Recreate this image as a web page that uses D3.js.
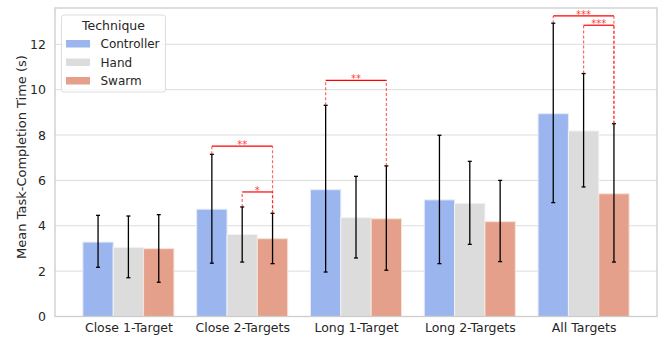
<!DOCTYPE html>
<html>
<head>
<meta charset="utf-8">
<script src="https://cdn.jsdelivr.net/npm/d3@7"></script>
<style>
  body { margin: 0; background: white; }
  text { font-family: "DejaVu Sans", sans-serif; }
</style>
</head>
<body>
<script>
// Données du graphique
const categories = ["Close 1-Target", "Close 2-Targets", "Long 1-Target", "Long 2-Targets", "All Targets"]
const techniques = ["Controller", "Hand", "Swarm"]

const controllerMeans = [3.28, 4.73, 5.59, 5.14, 8.94]
const controllerLow = [2.17, 2.35, 1.96, 2.33, 5.02]
const controllerHigh = [4.46, 7.15, 9.31, 7.99, 12.93]

const handMeans = [3.05, 3.62, 4.36, 4.99, 8.18]
const handLow = [1.71, 2.40, 2.58, 3.18, 5.71]
const handHigh = [4.43, 4.83, 6.18, 6.84, 10.71]

const swarmMeans = [2.99, 3.43, 4.31, 4.18, 5.41]
const swarmLow = [1.51, 2.33, 2.04, 2.42, 2.40]
const swarmHigh = [4.49, 4.55, 6.64, 6.00, 8.50]

const yTicks = [0, 2, 4, 6, 8, 10, 12]

// Comparaisons significatives : [catégorie, technique A, technique B, hauteur, étoiles]
const signifs = [
    [1, 0, 2, 7.51, "**"],
    [1, 1, 2, 5.49, "*"],
    [2, 0, 2, 10.41, "**"],
    [4, 0, 2, 13.25, "***"],
    [4, 1, 2, 12.84, "***"]
]

const colors = ["#9bb5ee", "#dcdcdc", "#e4a08a"]
const edges = ["#e4ebfb", "#f3f3f3", "#f7e2da"]

const means = [controllerMeans, handMeans, swarmMeans]
const lows = [controllerLow, handLow, swarmLow]
const highs = [controllerHigh, handHigh, swarmHigh]

// Tableau à plat pour les barres
const rows = []
categories.forEach((c, i) => {
    techniques.forEach((t, j) => {
        rows.push({ cat: c, ci: i, tech: t, ti: j, mean: means[j][i], low: lows[j][i], high: highs[j][i] })
    })
})

// Création du canva SVG
const width = 666, height = 342
const mLeft = 55, mRight = 657, mTop = 8, mBottom = 316.5

var svg = d3.select("body")
    .append("svg")
    .attr("width", width)
    .attr("height", height)

// Échelles
const x = d3.scaleLinear().domain([-0.645, 4.645]).range([mLeft, mRight])
const y = d3.scaleLinear().domain([0, 13.6]).range([mBottom, mTop])
const barW = 0.8 / 3
const xc = (ci, ti) => x(ci - 0.4 + barW * (ti + 0.5))

// Grille
svg.append("g")
    .selectAll("line")
    .data(yTicks)
    .enter()
    .append("line")
    .attr("x1", mLeft)
    .attr("x2", mRight)
    .attr("y1", d => y(d))
    .attr("y2", d => y(d))
    .attr("stroke", "#dcdcdc")
    .attr("stroke-width", 1)

// Axe Y
const yAxis = svg.append("g")
    .attr("transform", `translate(${mLeft},0)`)
    .call(d3.axisLeft(y).tickValues(yTicks).tickSize(0).tickPadding(9))
yAxis.select(".domain").remove()
yAxis.selectAll("text")
    .attr("font-size", 12.5)
    .attr("fill", "#262626")

// Axe X
const xAxis = svg.append("g")
    .attr("transform", `translate(0,${mBottom})`)
    .call(d3.axisBottom(x).tickValues(d3.range(categories.length)).tickFormat(i => categories[i]).tickSize(0).tickPadding(7))
xAxis.select(".domain").remove()
xAxis.selectAll("text")
    .attr("font-size", 12.5)
    .attr("fill", "#262626")

// Barres
svg.append("g")
    .selectAll("rect")
    .data(rows)
    .enter()
    .append("rect")
    .attr("x", d => x(d.ci - 0.4 + barW * d.ti))
    .attr("width", x(barW) - x(0))
    .attr("y", d => y(d.mean))
    .attr("height", d => y(0) - y(d.mean))
    .attr("fill", d => colors[d.ti])
    .attr("stroke", d => edges[d.ti])
    .attr("stroke-width", 1)

// Barres d'erreur
const err = svg.append("g")
    .attr("stroke", "black")
    .attr("stroke-width", 1.3)
err.selectAll(".v")
    .data(rows)
    .enter()
    .append("line")
    .attr("x1", d => xc(d.ci, d.ti))
    .attr("x2", d => xc(d.ci, d.ti))
    .attr("y1", d => y(d.low))
    .attr("y2", d => y(d.high))
err.selectAll(".capH")
    .data(rows)
    .enter()
    .append("line")
    .attr("x1", d => xc(d.ci, d.ti) - 2)
    .attr("x2", d => xc(d.ci, d.ti) + 2)
    .attr("y1", d => y(d.high))
    .attr("y2", d => y(d.high))
err.selectAll(".capL")
    .data(rows)
    .enter()
    .append("line")
    .attr("x1", d => xc(d.ci, d.ti) - 2)
    .attr("x2", d => xc(d.ci, d.ti) + 2)
    .attr("y1", d => y(d.low))
    .attr("y2", d => y(d.low))

// Crochets de significativité
const sig = svg.append("g")
signifs.forEach(s => {
    const [ci, a, b, h, stars] = s
    const xa = xc(ci, a), xb = xc(ci, b)
    sig.append("line")
        .attr("x1", xa).attr("x2", xa)
        .attr("y1", y(highs[a][ci])).attr("y2", y(h))
        .attr("stroke", "red").attr("stroke-opacity", 0.6)
        .attr("stroke-width", 1.2).attr("stroke-dasharray", "3,2")
    sig.append("line")
        .attr("x1", xb).attr("x2", xb)
        .attr("y1", y(highs[b][ci])).attr("y2", y(h))
        .attr("stroke", "red").attr("stroke-opacity", 0.6)
        .attr("stroke-width", 1.2).attr("stroke-dasharray", "3,2")
    sig.append("line")
        .attr("x1", xa).attr("x2", xb)
        .attr("y1", y(h)).attr("y2", y(h))
        .attr("stroke", "red").attr("stroke-width", 1.2)
    sig.append("text")
        .attr("x", (xa + xb) / 2)
        .attr("y", y(h) + 2)
        .attr("text-anchor", "middle")
        .attr("font-size", 10)
        .attr("fill", "red")
        .attr("fill-opacity", 0.8)
        .text(stars)
})

// Cadre
svg.append("rect")
    .attr("x", mLeft)
    .attr("y", mTop)
    .attr("width", mRight - mLeft)
    .attr("height", mBottom - mTop)
    .attr("fill", "none")
    .attr("stroke", "#cccccc")
    .attr("stroke-width", 1.3)

// Titre de l'axe Y
svg.append("text")
    .attr("transform", `translate(26,157) rotate(-90)`)
    .attr("text-anchor", "middle")
    .attr("font-size", 13)
    .attr("fill", "#262626")
    .text("Mean Task-Completion Time (s)")

// Légende
const legend = svg.append("g")
legend.append("rect")
    .attr("x", 61.5)
    .attr("y", 15)
    .attr("width", 104)
    .attr("height", 77)
    .attr("rx", 2.5)
    .attr("fill", "white")
    .attr("fill-opacity", 0.8)
    .attr("stroke", "#dddddd")
legend.append("text")
    .attr("x", 113.5)
    .attr("y", 30)
    .attr("text-anchor", "middle")
    .attr("font-size", 12.5)
    .attr("fill", "#262626")
    .text("Technique")
legend.selectAll(".item")
    .data(techniques)
    .enter()
    .append("rect")
    .attr("x", 66)
    .attr("y", (d, i) => 40 + i * 18.5)
    .attr("width", 24)
    .attr("height", 7.5)
    .attr("fill", (d, i) => colors[i])
legend.selectAll(".label")
    .data(techniques)
    .enter()
    .append("text")
    .attr("x", 100.5)
    .attr("y", (d, i) => 48.3 + i * 18.5)
    .attr("font-size", 12)
    .attr("fill", "#262626")
    .text(d => d)
</script>
</body>
</html>
